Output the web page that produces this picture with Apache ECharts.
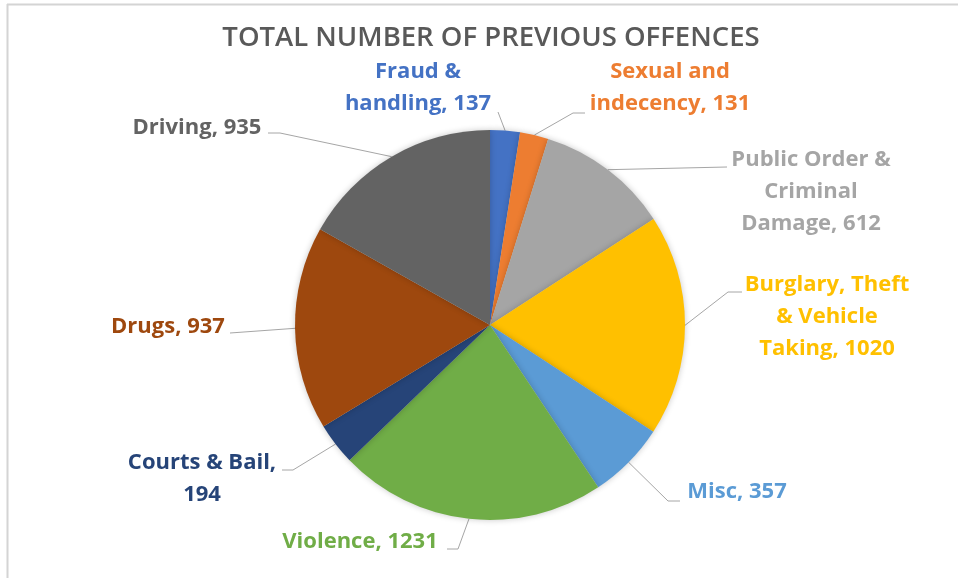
<!DOCTYPE html>
<html>
<head>
<meta charset="utf-8">
<script src="https://cdn.jsdelivr.net/npm/echarts@6/dist/echarts.min.js"></script>
<style>
  html, body { margin: 0; padding: 0; background: #fff; }
  #chart { width: 958px; height: 578px; }
</style>
</head>
<body>
<div id="chart"></div>
<script>
// Offence categories (line breaks where the label wraps) and counts
const categories = [
  'Fraud &\nhandling',
  'Sexual and\nindecency',
  'Public Order &\nCriminal\nDamage',
  'Burglary, Theft\n& Vehicle\nTaking',
  'Misc',
  'Violence',
  'Courts & Bail',
  'Drugs',
  'Driving'
];
const counts = [137, 131, 612, 1020, 357, 1231, 194, 937, 935];
const sliceColors = ['#4472C4', '#ED7D31', '#A5A5A5', '#FFC000', '#5B9BD5',
                     '#70AD47', '#264478', '#9E480E', '#636363'];
// separator between name and value in each label
const separators = [', ', ', ', ', ', ', ', ', ', ', ', ',\n', ', ', ', '];

// where each label block is centred
const labelSpots = [
  [418, 88], [670, 88], [811, 192], [827, 317], [737, 492],
  [360, 542], [202, 479], [168, 327], [197, 128]
];
// leader-line bend and end points, running from the slice towards the label
const leaderEnds = [
  [[498, 112]],
  [[573, 113], [585, 113]],
  [[727, 167]],
  [[728, 292], [742, 292]],
  [[668, 501], [680, 501]],
  [[458, 549], [447, 549]],
  [[293, 470], [282, 470]],
  [[230, 333]],
  [[280, 133], [268, 133]]
];

const CX = 490, CY = 325, R = 195;
const total = counts.reduce((a, b) => a + b, 0);

// point on the rim at the middle of a slice (fallback if no guide line is given)
function rimPoint(i) {
  const before = counts.slice(0, i).reduce((a, b) => a + b, 0);
  const ang = (before + counts[i] / 2) / total * Math.PI * 2;
  return [CX + R * Math.sin(ang), CY - R * Math.cos(ang)];
}

const chart = echarts.init(document.getElementById('chart'));

chart.setOption({
  backgroundColor: '#ffffff',
  animation: false,
  title: {
    text: 'TOTAL NUMBER OF PREVIOUS OFFENCES',
    left: 486,
    top: 19,
    textAlign: 'center',
    textStyle: {
      fontFamily: 'Open Sans',
      fontSize: 27.5,
      fontWeight: 600,
      color: '#595959'
    }
  },
  graphic: [
    { type: 'line', shape: { x1: 7, y1: 4.5, x2: 958, y2: 4.5 }, style: { stroke: '#d4d4d4', lineWidth: 2 } },
    { type: 'line', shape: { x1: 7.5, y1: 4, x2: 7.5, y2: 578 }, style: { stroke: '#d4d4d4', lineWidth: 2 } }
  ],
  series: [{
    type: 'pie',
    center: [CX, CY],
    radius: R,
    startAngle: 90,
    clockwise: true,
    avoidLabelOverlap: false,
    itemStyle: {
      shadowBlur: 6,
      shadowColor: 'rgba(0,0,0,0.22)'
    },
    label: {
      show: true,
      position: 'outside',
      fontFamily: 'Open Sans',
      fontWeight: 'bold',
      fontSize: 22,
      lineHeight: 32,
      formatter: p => p.name + separators[p.dataIndex] + p.value
    },
    labelLine: {
      show: true,
      length: 10,
      length2: 10,
      lineStyle: { color: '#a6a6a6', width: 1 }
    },
    labelLayout: p => {
      const i = p.dataIndex;
      const start = (p.labelLinePoints && p.labelLinePoints[0]) || rimPoint(i);
      return {
        x: labelSpots[i][0],
        y: labelSpots[i][1],
        align: 'center',
        verticalAlign: 'middle',
        labelLinePoints: [start].concat(leaderEnds[i])
      };
    },
    data: categories.map((name, i) => ({
      name: name,
      value: counts[i],
      itemStyle: { color: sliceColors[i] },
      label: { color: sliceColors[i] }
    }))
  }]
});
</script>
</body>
</html>
